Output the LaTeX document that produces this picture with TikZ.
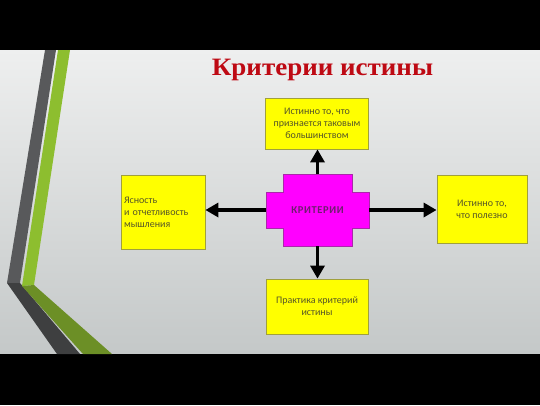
\documentclass[tikz,border=0pt]{standalone}
\usepackage{fontspec}
\setmainfont{Carlito}
\newfontfamily\titlefont{Liberation Serif}
\usetikzlibrary{arrows.meta}
\definecolor{bgtop}{RGB}{238,239,239}
\definecolor{bgbot}{RGB}{196,200,200}
\definecolor{grayhi}{RGB}{88,89,91}
\definecolor{graylo}{RGB}{62,63,64}
\definecolor{greenhi}{RGB}{141,190,47}
\definecolor{greenlo}{RGB}{108,143,38}
\definecolor{titlered}{RGB}{190,10,20}
\definecolor{boxyellow}{RGB}{255,255,0}
\definecolor{boxedge}{RGB}{160,160,60}
\definecolor{boxtext}{RGB}{85,85,40}
\definecolor{critfill}{RGB}{255,0,255}
\definecolor{critedge}{RGB}{170,40,170}
\definecolor{crittext}{RGB}{110,30,110}
\tikzset{
  ybox/.style={draw=boxedge, line width=0.8pt, fill=boxyellow, text=boxtext,
    font=\fontsize{10}{12}\selectfont, align=center, inner sep=2pt},
  conn/.style={line width=3.4pt, draw=black,
    -{Triangle[length=13pt,width=14pt]}}
}
\begin{document}
\begin{tikzpicture}[x=1pt,y=-1pt]
\useasboundingbox (0,0) rectangle (540,405);
% background
\shade[top color=bgtop, bottom color=bgbot] (0,50) rectangle (540,354);
\fill[black] (0,0) rectangle (540,50);
\fill[black] (0,354) rectangle (540,405);
% stripes
\fill[grayhi] (45,50) -- (56,50) -- (20,283) -- (7,283) -- cycle;
\fill[graylo] (7,283) -- (20,283) -- (80,354) -- (57,354) -- cycle;
\fill[greenhi] (58,50) -- (70,50) -- (34,285) -- (22,286) -- cycle;
\fill[greenlo] (22,286) -- (34,285) -- (112,354) -- (83,354) -- cycle;
% title
\node (title) at (322.5,70) {\titlefont\bfseries\fontsize{25}{29}\selectfont\color{titlered}\scalebox{1.08}[1]{Критерии истины}};
% centre cross
\fill[critfill, draw=critedge, line width=0.6pt]
  (283,174) -- (352,174) -- (352,192) -- (369,192) -- (369,228) -- (352,228)
  -- (352,246) -- (283,246) -- (283,228) -- (266,228) -- (266,192) -- (283,192) -- cycle;
\node[minimum width=103pt, minimum height=72pt, inner sep=0pt, text=crittext,
  font=\bfseries\fontsize{10.5}{12}\selectfont] (crit) at (317.5,210)
  {\addfontfeature{LetterSpace=6}КРИТЕРИИ};
% boxes
\node[ybox, minimum width=103pt, minimum height=51pt] (top) at (317,123.5)
  {Истинно то, что\\признается таковым\\большинством};
\node[ybox, minimum width=102pt, minimum height=55pt] (bottom) at (317,306.5)
  {Практика критерий\\истины};
\node[ybox, text width=78pt, align=left, inner xsep=3pt, minimum height=74pt] (left) at (163,212)
  {Ясность\\и отчетливость\\мышления};
\node[ybox, minimum width=90pt, minimum height=68pt] (right) at (482,209)
  {Истинно то,\\что полезно};
% connectors
\draw[conn] (crit.north) -- (crit.north |- top.south);
\draw[conn] (crit.south) -- (crit.south |- bottom.north);
\draw[conn] (crit.west) -- (crit.west -| left.east);
\draw[conn] (crit.east) -- (crit.east -| right.west);
\end{tikzpicture}
\end{document}
